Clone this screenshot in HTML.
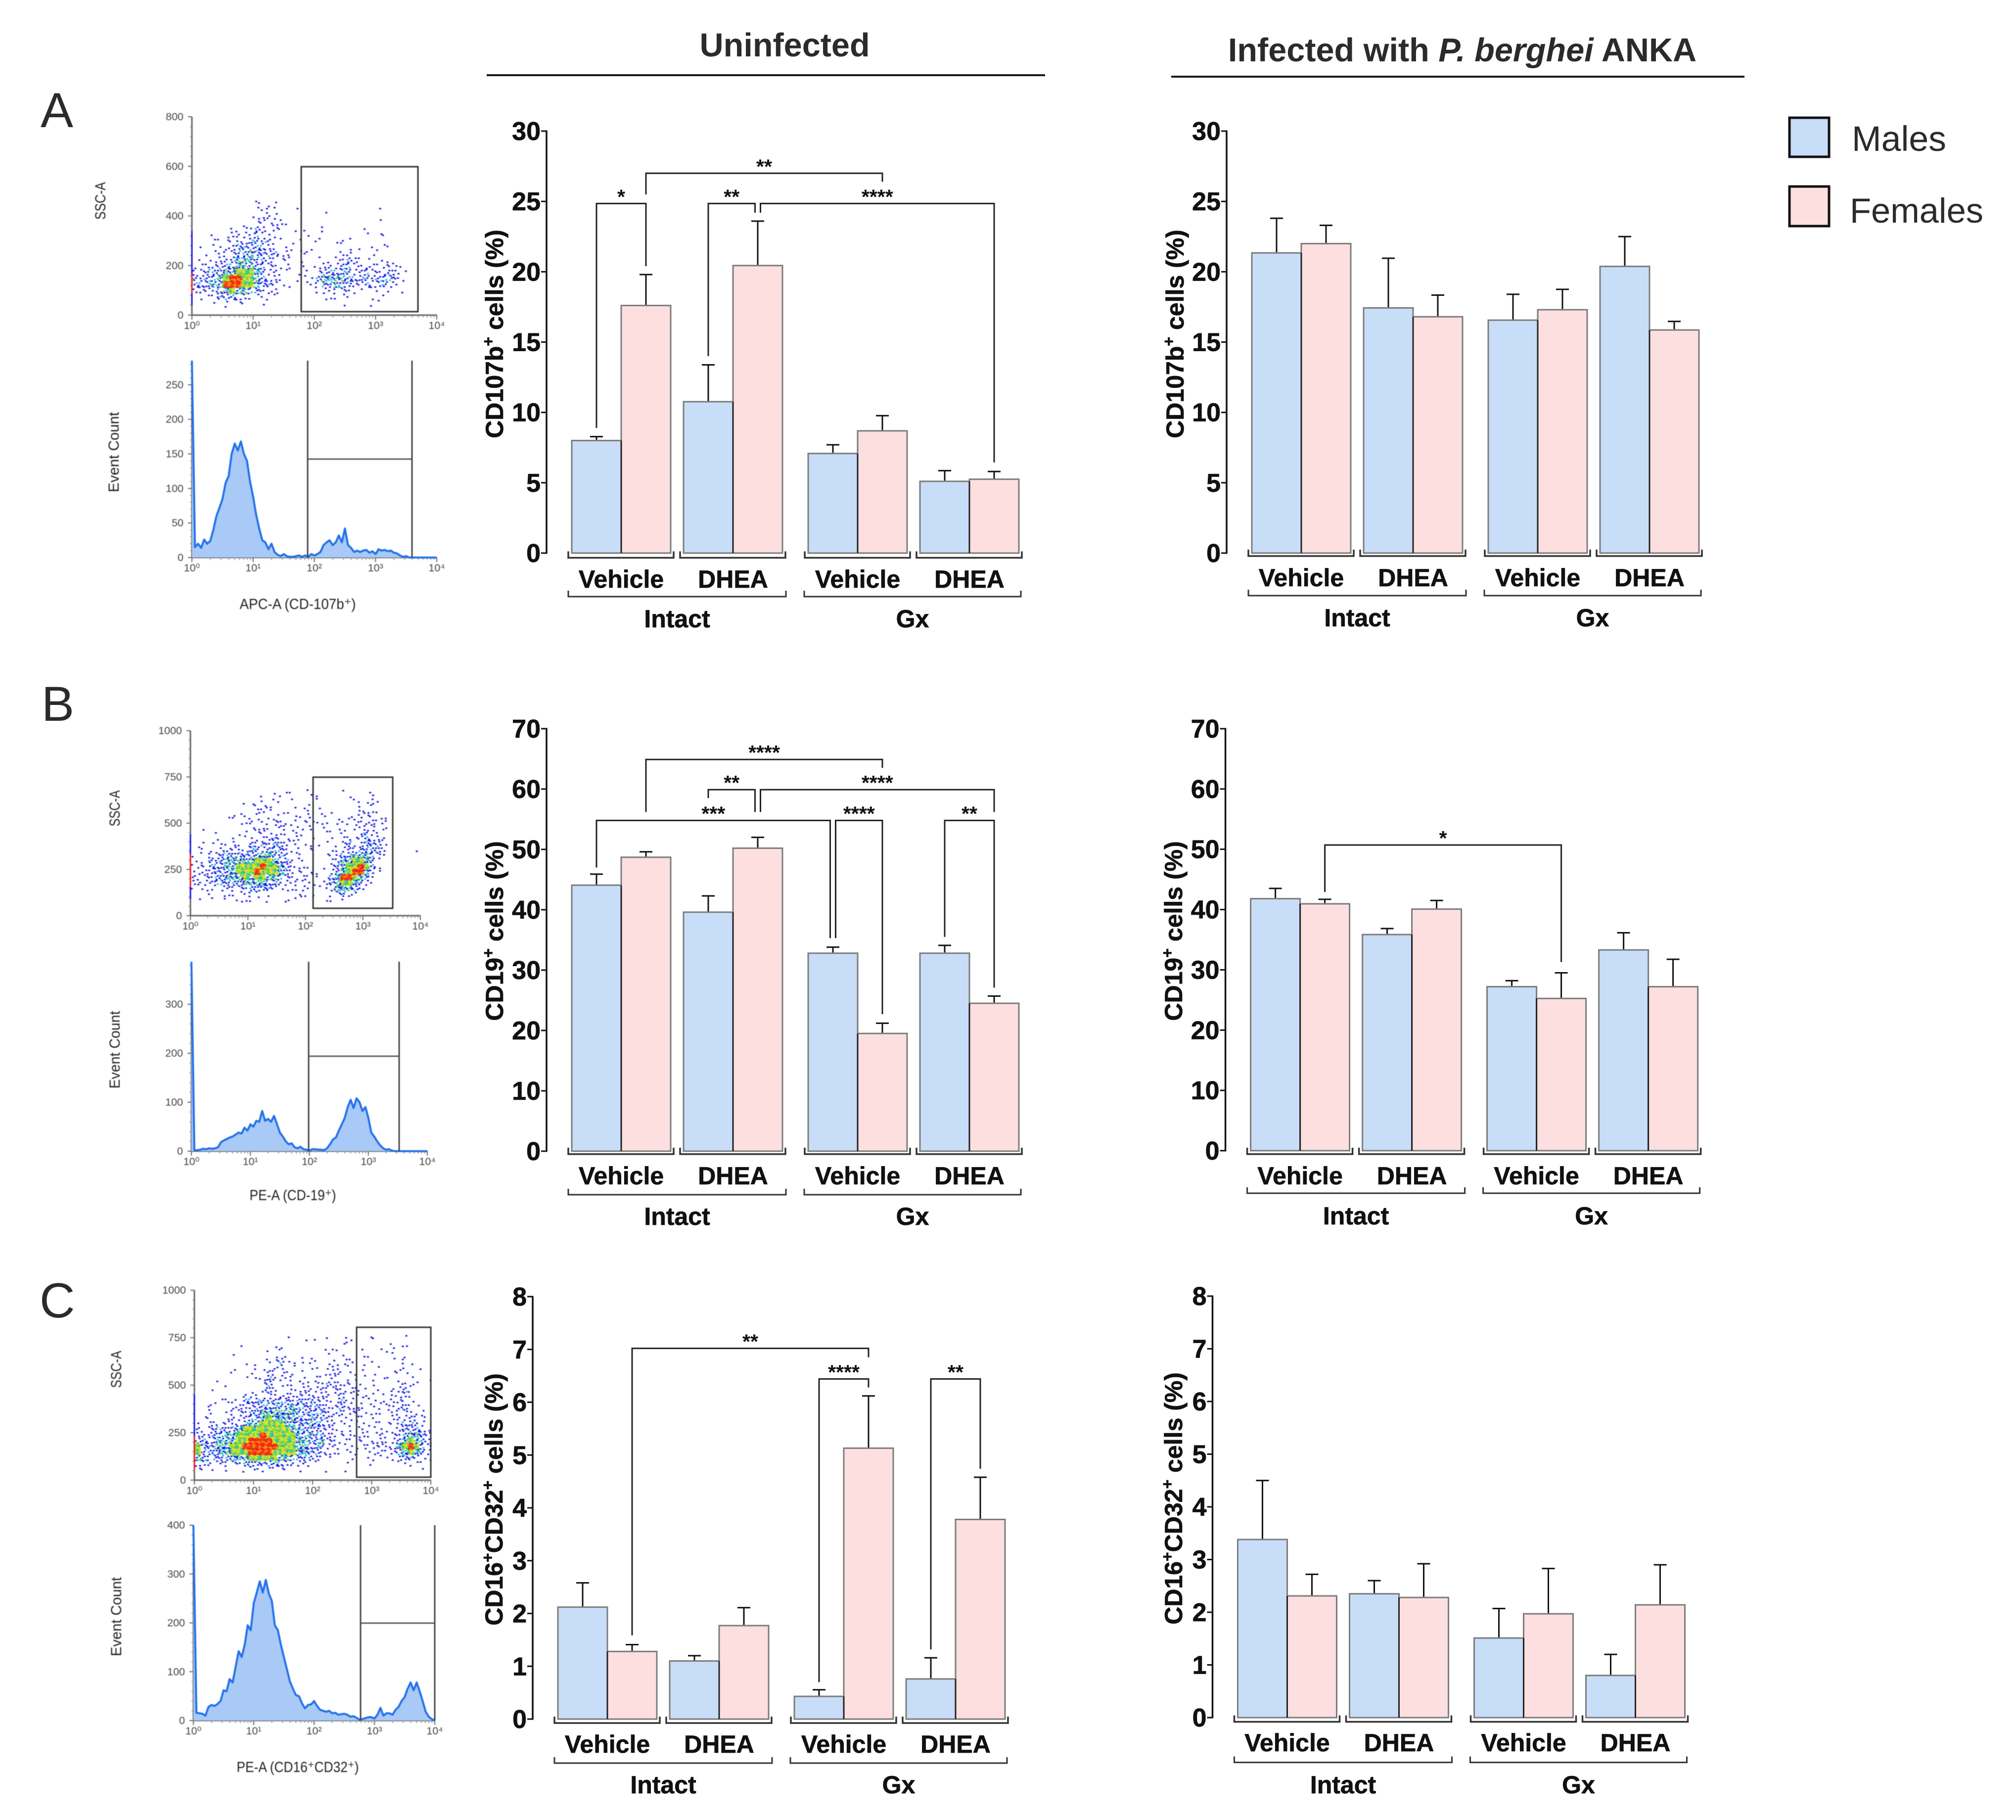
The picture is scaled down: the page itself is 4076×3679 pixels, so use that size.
<!DOCTYPE html>
<html lang="en">
<head>
<meta charset="utf-8">
<title>CD107b, CD19 and CD16/CD32 cell percentages</title>
<style>
html,body{margin:0;padding:0;background:#fff;width:4076px;height:3679px;overflow:hidden}
svg{display:block;font-family:"Liberation Sans",sans-serif}
#flow-layer{filter:blur(.7px)}
</style>
</head>
<body>
<svg id="figure" width="4076" height="3679" viewBox="0 0 4076 3679">
  <rect width="4076" height="3679" fill="#fff"/>

  <text x="1586.6" y="114" text-anchor="middle" font-size="66.6" font-weight="700" fill="#2b2b2b">Uninfected</text>
  <rect x="984" y="150" width="1129" height="4" fill="#1a1a1a"/>
  <text x="2956.5" y="124" text-anchor="middle" font-size="66.6" font-weight="700" fill="#2b2b2b">Infected with <tspan font-style="italic">P. berghei</tspan> ANKA</text>
  <rect x="2368" y="153" width="1159" height="4" fill="#1a1a1a"/>

  <text x="82" y="257" font-size="99" fill="#2b2b2b">A</text>
  <text x="84" y="1457" font-size="99" fill="#2b2b2b">B</text>
  <text x="80" y="2663" font-size="99" fill="#2b2b2b">C</text>

  <rect x="3618" y="238" width="80" height="79" fill="#c8ddf7" stroke="#111" stroke-width="5"/>
  <text x="3744" y="305" font-size="71.6" fill="#2b2b2b">Males</text>
  <rect x="3618" y="377" width="80" height="80" fill="#fddfe0" stroke="#111" stroke-width="5"/>
  <text x="3740" y="450" font-size="70.4" fill="#2b2b2b">Females</text>

  <g id="flow-layer"></g>
  <g id="bar-layer"></g>
</svg>

<script>
/* ---------- bar chart data ---------- */
const groupLabels = ['Vehicle', 'DHEA', 'Vehicle', 'DHEA'];
const treatmentLabels = ['Intact', 'Gx'];

const ticksA = [0, 5, 10, 15, 20, 25, 30];
const ticksB = [0, 10, 20, 30, 40, 50, 60, 70];
const ticksC = [0, 1, 2, 3, 4, 5, 6, 7, 8];

/* bars alternate male, female across the four groups */
const meansUninfectedA = [8.0, 17.6, 10.76, 20.44, 7.08, 8.69, 5.1, 5.25];
const upperUninfectedA = [8.28, 19.8, 13.38, 23.6, 7.7, 9.77, 5.86, 5.8];
const meansInfectedA = [21.34, 22.0, 17.43, 16.8, 16.56, 17.3, 20.38, 15.86];
const upperInfectedA = [23.8, 23.3, 20.96, 18.34, 18.4, 18.75, 22.5, 16.47];

const meansUninfectedB = [44.07, 48.7, 39.6, 50.2, 32.8, 19.5, 32.8, 24.5];
const upperUninfectedB = [45.9, 49.6, 42.3, 52.0, 33.8, 21.2, 34.1, 25.7];
const meansInfectedB = [41.8, 40.95, 35.85, 40.07, 27.2, 25.25, 33.3, 27.2];
const upperInfectedB = [43.5, 41.7, 36.85, 41.5, 28.2, 29.5, 36.15, 31.75];

const meansUninfectedC = [2.12, 1.28, 1.10, 1.77, 0.43, 5.13, 0.76, 3.78];
const upperUninfectedC = [2.58, 1.41, 1.20, 2.11, 0.555, 6.12, 1.16, 4.58];
const meansInfectedC = [3.38, 2.31, 2.35, 2.28, 1.51, 1.97, 0.80, 2.14];
const upperInfectedC = [4.50, 2.72, 2.60, 2.92, 2.07, 2.83, 1.20, 2.90];

/* significance brackets: fromBar, fromSide, fromValue, toBar, toSide, toValue, lineValue, stars */
const bracketsUninfectedA = [
  [0, 0, 8.9, 1, 0, 20.4, 24.85, '*'],
  [1, 0, 25.5, 5, 0, 26.4, 27.0, '**'],
  [2, 0, 14.0, 3, -1, 24.2, 24.85, '**'],
  [3, 1, 24.2, 7, 0, 6.45, 24.85, '****']
];
const bracketsInfectedA = [];
const bracketsUninfectedB = [
  [1, 0, 56.2, 5, 0, 63.5, 64.9, '****'],
  [2, 0, 58.5, 3, -1, 56.2, 59.9, '**'],
  [3, 1, 56.2, 7, 0, 56.2, 59.9, '****'],
  [0, 0, 47.0, 4, -1, 35.3, 54.8, '***'],
  [4, 1, 35.3, 5, 0, 22.7, 54.8, '****'],
  [6, 0, 35.5, 7, 0, 27.1, 54.8, '**']
];
const bracketsInfectedB = [
  [1, 0, 42.9, 5, 0, 31.3, 50.7, '*']
];
const bracketsUninfectedC = [
  [1, 0, 1.585, 5, 0, 6.85, 7.02, '**'],
  [4, 0, 0.70, 5, 0, 6.28, 6.44, '****'],
  [6, 0, 1.32, 7, 0, 4.74, 6.44, '**']
];
const bracketsInfectedC = [];

/* ---------- flow cytometry data ---------- */
const sscTicksA = [0, 200, 400, 600, 800];
const sscTicksBC = [0, 250, 500, 750, 1000];
const countTicksA = [0, 50, 100, 150, 200, 250];
const countTicksB = [0, 100, 200, 300];
const countTicksC = [0, 100, 200, 300, 400];
const decadeLabels = ['10\u2070', '10\u00b9', '10\u00b2', '10\u00b3', '10\u2074'];

/* density read by eye: row = SSC band (top to bottom), column = 0.1 log decade, digit = density level */
const densityTopA = 450;
const densityStepA = 25;
const densityRowsA = [
  "..........2.11",
  "..........1121...1...1........1",
  ".........11122",
  "..........121221..............1",
  "......112132.21.1.1..2......1",
  "...1.122213111....1.........1.11",
  "...111122333211.11..2..121",
  ".1.11223333321.11..1.....1.1.112",
  "..11122334333312.12.....22...1",
  ".111223444332112.1..1.1123211.11",
  "1122333444332212..1112223312211222",
  "2233344555432211.11.133333223222321",
  "333345665543221..111344443333333321",
  "3334466655433211..1123343322322321",
  "22223454433222......12122211..11..1",
  ".1113332211111.......11111...1.1",
  "...1.1.11..1............1....11",
  ".....1"
];
const densityTopB = 690;
const densityStepB = 30;
const densityRowsB = [
  "....................1.....1",
  "............1.1111..11.........2",
  "............1.11.1...1.....111.11",
  ".........11112....1.1........112",
  "...........221..2..11.1.1....2211",
  "......121111.1.1..2.2.11...2.211.2",
  "........112111221.111211.211122212",
  "..1.......12111221112..1.1..2122.2",
  "....1...11.121111111...11.2..1321",
  "....1..1.1111231122..1..1.12123222",
  "..11.2.21.3232332.111.11.123123331",
  ".2.1.22221332333211.11..1122233332.....1",
  "11.22333333344332.2....11233444321",
  "11.33344444555433211....124455431",
  "121333445555655432111..1234556531",
  "1222333455565554321112..234566421",
  "2122334445455443221211.134665431",
  "2222333334444332212111.234554321",
  "1111.2222233332111121.11244432",
  "...1.1111121.1....12.1..12321",
  ".1.1.1.11111.1..2.1....11.1"
];
const densityTopC = 750;
const densityStepC = 30;
const densityRowsC = [
  "...............1..1.1.1..11..11....1",
  ".......1.................2.......1.2",
  "............112.......12....1..111",
  "......1......1.1..1...1..1..11...1.1",
  "............21311.121..1.12..1...1.2",
  "........1.2..22.1..11.2122..1..1...11.1",
  "......2..1.122.21.1...222.111.1..121",
  "........1.2132212.1.11.2.1.11.1.2...1..1",
  "...1.1.....13.11111221322211..1...1221",
  "..1........232..2122222221221.1..2231",
  "........221.21222222222122112.11.2121",
  "...1122.333333332333222.322.1112.2211",
  "..2...22223333334333332232211111212311",
  "..2..1222334444443333322212211111122111",
  ".11..122233454444333332211111.1..222222",
  "1.2212223445555443343322111111111123322",
  "2123333455555555443332221.1111111.233321",
  "2233344555565555543433221121211212234432",
  "3323444556666555544334221111112212345432",
  "5334445566666655544333221111212222456532",
  "5333445556666555544332211111.12112345432",
  "43233344455555443333211...1..11111233211",
  "222122223333333222211....1...1....11111",
  "111..1..11211111.1....1..1............1"
];
/* events piled on the axis: lowSSC, highSSC, density level */
const streakA = [[40, 87, 3], [87, 167, 6], [167, 230, 4], [230, 340, 2]];
const streakB = [[90, 154, 4], [154, 332, 6], [332, 440, 2]];
const streakC = [[57, 231, 6], [231, 330, 4], [330, 450, 2]];

/* histogram counts, one value per 0.05 log decade starting at 10^0 */
const histCountsA = [285,15,20,14,26,20,24,40,60,72,85,108,118,150,165,155,168,150,140,110,88,62,42,25,22,12,20,8,4,2,5,2,1,1,2,3,1,3,1,5,3,5,8,18,22,25,18,22,32,22,42,18,14,8,10,8,10,11,7,9,5,12,10,11,9,10,7,6,3,1,2,0,0,0,0,0,0,0,0,0,0];
const histCountsB = [387,2,2,3,5,4,6,5,6,8,18,22,25,28,30,34,38,36,48,42,55,50,62,60,82,62,66,60,72,56,38,30,20,14,16,8,6,9,4,3,1,4,4,3,3,2,6,14,24,28,42,55,68,90,105,88,108,100,82,90,68,38,30,20,12,6,3,4,1,0,0,0,0,0,0,0,0,0,0,0,0];
const histCountsC = [400,16,15,14,10,28,32,30,34,40,62,60,85,78,110,142,130,155,195,185,240,262,285,262,288,260,245,195,185,155,130,105,80,65,52,50,35,25,32,33,40,30,22,20,18,20,15,16,12,13,14,12,8,9,6,2,3,5,7,7,4,12,26,10,15,15,12,22,28,40,48,65,78,62,78,60,40,18,8,3,0];

/* ---------- drawing ---------- */
const svgRoot = document.getElementById('figure');
const flowLayer = document.getElementById('flow-layer');
const barLayer = document.getElementById('bar-layer');
const SVGNS = svgRoot.namespaceURI;
const BAR_WIDTH = 100;
const BOLD = '700';

function mk(tag, attrs, parent) {
  const el = document.createElementNS(SVGNS, tag);
  for (const k in attrs) el.setAttribute(k, attrs[k]);
  parent.appendChild(el);
  return el;
}
function groupOffset(g) {
  return 51 + g * 226 + (g >= 2 ? 26 : 0);
}

function drawBarChart(c) {
  const root = mk('g', {}, barLayer);
  
  
  const maxTick = c.ticks[c.ticks.length - 1];
  const yScale = v => c.yZero - (v / maxTick) * (c.yZero - c.yTop);
  const barLeft = i => c.axisX + groupOffset(Math.floor(i / 2)) + (i % 2) * BAR_WIDTH;
  const barMid = i => barLeft(i) + BAR_WIDTH / 2;
  const boldText = {'font-weight': BOLD, fill: '#111', stroke: '#111', 'stroke-width': 0.7};

  const axis = mk('line', {x1: c.axisX, x2: c.axisX, y1: yScale(maxTick) - 1.5, y2: yScale(0) + 1.5, stroke: '#111', 'stroke-width': 3.5}, root);
  
  

  c.ticks.forEach(t => {
    const tick = mk('line', {x1: c.axisX - 11, x2: c.axisX, y1: yScale(t), y2: yScale(t), stroke: '#111', 'stroke-width': 3}, root);
    
    
    const label = mk('text', Object.assign({x: c.axisX - 12, y: yScale(t) + 18, 'text-anchor': 'end', 'font-size': 52}, boldText), root);
    
    
    label.textContent = t;
  });

  const title = mk('text', Object.assign({x: c.titleX, y: c.titleY, 'text-anchor': 'middle', 'font-size': 50, transform: 'rotate(-90 ' + c.titleX + ' ' + c.titleY + ')'}, boldText), root);
  
  
  c.titleParts.forEach(part => {
    const isSup = part === '+';
    const span = mk('tspan', isSup ? {'font-size': 32, dy: -19} : {dy: part === c.titleParts[0] ? 0 : 19}, title);
    
    
    span.textContent = part;
  });

  c.means.forEach((v, i) => {
    const isFemale = i % 2 === 1;
    const errLine = mk('line', {x1: barMid(i), x2: barMid(i), y1: yScale(v), y2: yScale(c.upper[i]), stroke: '#111', 'stroke-width': 3}, root);
    
    
    const errCap = mk('line', {x1: barMid(i) - 13, x2: barMid(i) + 13, y1: yScale(c.upper[i]), y2: yScale(c.upper[i]), stroke: '#111', 'stroke-width': 3}, root);
    
    
    const bar = mk('rect', {x: barLeft(i), y: yScale(v), width: BAR_WIDTH, height: yScale(0) - yScale(v), fill: isFemale ? '#fddfe0' : '#c8ddf7', stroke: '#7c7c7c', 'stroke-width': 3}, root);
    
    
  });
  c.means.forEach((v, i) => {
    if (i % 2 === 1) return;
    const shared = Math.max(yScale(v), yScale(c.means[i + 1]));
    const divider = mk('line', {x1: barLeft(i + 1), x2: barLeft(i + 1), y1: shared, y2: yScale(0), stroke: '#222', 'stroke-width': 3}, root);
    
    
  });

  groupLabels.forEach((name, g) => {
    const left = c.axisX + groupOffset(g) - 7;
    const right = c.axisX + groupOffset(g) + 2 * BAR_WIDTH + 6;
    const brace = mk('path', {d: 'M' + left + ' ' + (c.braceY - 13) + 'V' + c.braceY + 'H' + right + 'V' + (c.braceY - 13), fill: 'none', stroke: '#333', 'stroke-width': 3.5}, root);
    
    
    const label = mk('text', Object.assign({x: c.axisX + groupOffset(g) + BAR_WIDTH, y: c.groupY, 'text-anchor': 'middle', 'font-size': 50}, boldText), root);
    
    
    label.textContent = name;
  });

  treatmentLabels.forEach((name, s) => {
    const left = c.axisX + groupOffset(s * 2) - (s ? 8 : 7);
    const right = c.axisX + groupOffset(s * 2 + 1) + 2 * BAR_WIDTH + (s ? 4 : 7);
    const brace = mk('path', {d: 'M' + left + ' ' + (c.superY - 12) + 'V' + c.superY + 'H' + right + 'V' + (c.superY - 12), fill: 'none', stroke: '#333', 'stroke-width': 3}, root);
    
    
    const label = mk('text', Object.assign({x: (left + right) / 2, y: c.superLabelY, 'text-anchor': 'middle', 'font-size': 50}, boldText), root);
    
    
    label.textContent = name;
  });

  c.brackets.forEach(b => {
    const x1 = barMid(b[0]) + b[1] * 5.5;
    const x2 = barMid(b[3]) + b[4] * 5.5;
    const path = mk('path', {d: 'M' + x1 + ' ' + yScale(b[2]) + 'V' + yScale(b[6]) + 'H' + x2 + 'V' + yScale(b[5]), fill: 'none', stroke: '#222', 'stroke-width': 3}, root);
    
    
    const stars = mk('text', {x: (x1 + x2) / 2, y: yScale(b[6]), 'text-anchor': 'middle', 'font-size': 41, 'font-weight': BOLD, fill: '#111'}, root);
    
    
    stars.textContent = b[7];
  });
}

/* fixed sub-cell offsets used to lay dots inside a density cell */
const CELL_OFFSETS = [[.1,.2],[.6,.7],[.35,.05],[.8,.3],[.2,.75],[.5,.4],[.05,.5],[.7,.05],[.4,.85],[.9,.6],[.25,.45],[.6,.2],[.8,.85],[.1,.9]];
const LEVEL_DOTS = [0, 1, 2, 4, 7, 11, 14];
const LEVEL_COLORS = [
  [], ['#1414e0'], ['#1414e0'],
  ['#1414e0', '#1414e0', '#10b8e8', '#1414e0'],
  ['#1414e0', '#10b8e8', '#20c878', '#1414e0', '#18c8c0', '#70d840'],
  ['#20c878', '#e8e820', '#18c8c0', '#70d840', '#f0d020', '#b8e020'],
  ['#f01818', '#f89010', '#f03010']
];
const LEVEL_BASE = {5: '#a8dc50', 6: '#f8a010'};
const DOT_ORDER = ['#1414e0', '#10b8e8', '#18c8c0', '#20c878', '#70d840', '#b8e020', '#e8e820', '#f0d020', '#f89010', '#f03010', '#f01818'];

function flowAxes(root, p, yTicks, minorCount) {
  const yScale = v => p.yZero - (v / p.max) * (p.yZero - p.yTop);
  const xScale = l => p.x0 + (l / 4) * (p.x1 - p.x0);
  const yLine = mk('line', {x1: p.x0, x2: p.x0, y1: p.yTop, y2: p.yZero, stroke: '#666', 'stroke-width': 3}, root);
  
  
  const xLine = mk('line', {x1: p.x0, x2: p.x1, y1: p.yZero, y2: p.yZero, stroke: '#666', 'stroke-width': 3}, root);
  
  
  const step = yTicks[1] - yTicks[0];
  yTicks.forEach(t => {
    const tick = mk('line', {x1: p.x0 - 8, x2: p.x0, y1: yScale(t), y2: yScale(t), stroke: '#666', 'stroke-width': 2}, root);
    
    
    for (let m = 1; m < minorCount; m++) {
      const v = t + m * step / minorCount;
      if (v > p.max) break;
      const minor = mk('line', {x1: p.x0 - 4, x2: p.x0, y1: yScale(v), y2: yScale(v), stroke: '#888', 'stroke-width': 1.5}, root);
      
      
    }
    const label = mk('text', {x: p.x0 - 17, y: yScale(t) + 7, 'text-anchor': 'end', 'font-size': 21.5, fill: '#444'}, root);
    
    
    label.textContent = t;
  });
  decadeLabels.forEach((text, d) => {
    const tick = mk('line', {x1: xScale(d), x2: xScale(d), y1: p.yZero, y2: p.yZero + 9, stroke: '#666', 'stroke-width': 2}, root);
    
    
    if (d < 4) {
      for (let m = 2; m < 10; m++) {
        const minor = mk('line', {x1: xScale(d + Math.log10(m)), x2: xScale(d + Math.log10(m)), y1: p.yZero, y2: p.yZero + 5, stroke: '#888', 'stroke-width': 1.5}, root);
        
        
      }
    }
    const label = mk('text', {x: xScale(d), y: p.yZero + 28, 'text-anchor': 'middle', 'font-size': 21.5, fill: '#444'}, root);
    
    
    label.textContent = text;
  });
  return {xScale, yScale};
}

function drawScatter(p) {
  const root = mk('g', {}, flowLayer);
  
  
  const s = flowAxes(root, p, p.ticks, 5);
  const cellW = s.xScale(0.1) - s.xScale(0);
  const cellH = s.yScale(0) - s.yScale(p.step);
  const dotPaths = {};
  const basePaths = {};
  p.rows.forEach((row, r) => {
    const ssc = p.top - r * p.step;
    const cy = s.yScale(ssc) - cellH / 2;
    for (let c = 0; c < row.length && c <= 40; c++) {
      const level = row[c] === '.' ? 0 : +row[c];
      if (!level) continue;
      const cx = s.xScale(c * 0.1);
      if (LEVEL_BASE[level]) {
        const base = LEVEL_BASE[level];
        basePaths[base] = (basePaths[base] || '') + 'M' + cx.toFixed(1) + ' ' + cy.toFixed(1) + 'h' + cellW.toFixed(1) + 'v' + cellH.toFixed(1) + 'h-' + cellW.toFixed(1) + 'z';
      }
      const colors = LEVEL_COLORS[level];
      for (let k = 0; k < LEVEL_DOTS[level]; k++) {
        const off = CELL_OFFSETS[(r * 5 + c * 3 + k) % CELL_OFFSETS.length];
        const col = colors[k % colors.length];
        dotPaths[col] = (dotPaths[col] || '') + 'M' + (cx + off[0] * cellW).toFixed(1) + ' ' + (cy + off[1] * cellH).toFixed(1) + 'h4v3h-4z';
      }
    }
  });
  Object.keys(basePaths).forEach(col => {
    const base = mk('path', {d: basePaths[col], fill: col}, root);
    
    
  });
  DOT_ORDER.forEach(col => {
    if (!dotPaths[col]) return;
    const dots = mk('path', {d: dotPaths[col], fill: col}, root);
    
    
  });
  p.streak.forEach(seg => {
    const colors = LEVEL_COLORS[seg[2]];
    const streak = mk('line', {x1: p.x0, x2: p.x0, y1: s.yScale(seg[0]), y2: s.yScale(seg[1]), stroke: colors[0], 'stroke-width': 3}, root);
    
    
  });
  const gate = mk('rect', {x: p.gate[0], y: p.gate[1], width: p.gate[2] - p.gate[0], height: p.gate[3] - p.gate[1], fill: 'none', stroke: '#333', 'stroke-width': 3}, root);
  
  
  const label = mk('text', {x: p.labelX, y: p.labelY, 'text-anchor': 'middle', 'font-size': 30, fill: '#222', textLength: p.labelLen, lengthAdjust: 'spacingAndGlyphs', transform: 'rotate(-90 ' + p.labelX + ' ' + p.labelY + ')'}, root);
  
  
  label.textContent = 'SSC-A';
}

function drawHistogram(p) {
  const root = mk('g', {}, flowLayer);
  
  
  const s = flowAxes(root, p, p.ticks, 5);
  const pts = p.counts.map((v, i) => s.xScale(i * 0.05).toFixed(1) + ' ' + s.yScale(Math.min(v, p.max)).toFixed(1));
  const line = 'M' + pts.join('L');
  const area = mk('path', {d: line + 'L' + s.xScale(4) + ' ' + s.yScale(0) + 'L' + s.xScale(0) + ' ' + s.yScale(0) + 'Z', fill: '#a9c9f6'}, root);
  
  
  const outline = mk('path', {d: line, fill: 'none', stroke: '#2070e8', 'stroke-width': 4, 'stroke-linejoin': 'round'}, root);
  
  
  const gateLeft = mk('line', {x1: p.gate[0], x2: p.gate[0], y1: p.yTop, y2: p.yZero, stroke: '#444', 'stroke-width': 3}, root);
  
  
  const gateRight = mk('line', {x1: p.gate[1], x2: p.gate[1], y1: p.yTop, y2: p.yZero, stroke: '#444', 'stroke-width': 3}, root);
  
  
  const gateBar = mk('line', {x1: p.gate[0], x2: p.gate[1], y1: p.gate[2], y2: p.gate[2], stroke: '#444', 'stroke-width': 2.5}, root);
  
  
  const yLabel = mk('text', {x: p.labelX, y: p.labelY, 'text-anchor': 'middle', 'font-size': 30, fill: '#222', textLength: p.labelLen, lengthAdjust: 'spacingAndGlyphs', transform: 'rotate(-90 ' + p.labelX + ' ' + p.labelY + ')'}, root);
  
  
  yLabel.textContent = 'Event Count';
  const xLabel = mk('text', {x: p.xLabelX, y: p.xLabelY, 'text-anchor': 'middle', 'font-size': 30, fill: '#222', textLength: p.xLabelLen, lengthAdjust: 'spacingAndGlyphs'}, root);
  
  
  xLabel.textContent = p.xLabel;
}

drawScatter({name: 'scatter-a', x0: 388, x1: 883, yTop: 236, yZero: 637, max: 800, ticks: sscTicksA, rows: densityRowsA, top: densityTopA, step: densityStepA, streak: streakA, gate: [609, 337, 845, 630], labelX: 213, labelY: 406, labelLen: 76});
drawHistogram({name: 'histogram-a', x0: 388, x1: 883, yTop: 729, yZero: 1127, max: 285, ticks: countTicksA, counts: histCountsA, gate: [622, 833, 928], labelX: 240, labelY: 914, labelLen: 162, xLabel: 'APC-A (CD-107b\u207a)', xLabelX: 602, xLabelY: 1231, xLabelLen: 235});
drawScatter({name: 'scatter-b', x0: 385, x1: 850, yTop: 1477, yZero: 1851, max: 1000, ticks: sscTicksBC, rows: densityRowsB, top: densityTopB, step: densityStepB, streak: streakB, gate: [633, 1571, 794, 1836], labelX: 242, labelY: 1634, labelLen: 73});
drawHistogram({name: 'histogram-b', x0: 387, x1: 864, yTop: 1944, yZero: 2327, max: 387, ticks: countTicksB, counts: histCountsB, gate: [624, 807, 2135], labelX: 242, labelY: 2122, labelLen: 157, xLabel: 'PE-A (CD-19\u207a)', xLabelX: 592, xLabelY: 2426, xLabelLen: 175});
drawScatter({name: 'scatter-c', x0: 393, x1: 871, yTop: 2608, yZero: 2992, max: 1000, ticks: sscTicksBC, rows: densityRowsC, top: densityTopC, step: densityStepC, streak: streakC, gate: [721, 2683, 871, 2986], labelX: 245, labelY: 2768, labelLen: 75});
drawHistogram({name: 'histogram-c', x0: 391, x1: 879, yTop: 3083, yZero: 3478, max: 400, ticks: countTicksC, counts: histCountsC, gate: [729, 879, 3281], labelX: 245, labelY: 3268, labelLen: 160, xLabel: 'PE-A (CD16\u207aCD32\u207a)', xLabelX: 602, xLabelY: 3582, xLabelLen: 247});

drawBarChart({name: 'chart-a-uninfected', axisX: 1105, yTop: 265, yZero: 1118, ticks: ticksA, means: meansUninfectedA, upper: upperUninfectedA, brackets: bracketsUninfectedA, titleX: 1017, titleY: 675, titleParts: ['CD107b', '+', ' cells (%)'], braceY: 1127.5, groupY: 1188, superY: 1206, superLabelY: 1268});
drawBarChart({name: 'chart-a-infected', axisX: 2480, yTop: 265, yZero: 1118, ticks: ticksA, means: meansInfectedA, upper: upperInfectedA, brackets: bracketsInfectedA, titleX: 2393, titleY: 675, titleParts: ['CD107b', '+', ' cells (%)'], braceY: 1124, groupY: 1185, superY: 1204, superLabelY: 1266});
drawBarChart({name: 'chart-b-uninfected', axisX: 1105, yTop: 1473, yZero: 2327, ticks: ticksB, means: meansUninfectedB, upper: upperUninfectedB, brackets: bracketsUninfectedB, titleX: 1017, titleY: 1882, titleParts: ['CD19', '+', ' cells (%)'], braceY: 2333, groupY: 2394, superY: 2415, superLabelY: 2476});
drawBarChart({name: 'chart-b-infected', axisX: 2477.6, yTop: 1473, yZero: 2326, ticks: ticksB, means: meansInfectedB, upper: upperInfectedB, brackets: bracketsInfectedB, titleX: 2390, titleY: 1882, titleParts: ['CD19', '+', ' cells (%)'], braceY: 2333, groupY: 2394, superY: 2412, superLabelY: 2475});
drawBarChart({name: 'chart-c-uninfected', axisX: 1077, yTop: 2621, yZero: 3475, ticks: ticksC, means: meansUninfectedC, upper: upperUninfectedC, brackets: bracketsUninfectedC, titleX: 1016, titleY: 3031, titleParts: ['CD16', '+', 'CD32', '+', ' cells (%)'], braceY: 3483, groupY: 3543, superY: 3564, superLabelY: 3625});
drawBarChart({name: 'chart-c-infected', axisX: 2451.5, yTop: 2620, yZero: 3472, ticks: ticksC, means: meansInfectedC, upper: upperInfectedC, brackets: bracketsInfectedC, titleX: 2390, titleY: 3029, titleParts: ['CD16', '+', 'CD32', '+', ' cells (%)'], braceY: 3480.5, groupY: 3540, superY: 3562.6, superLabelY: 3625});
</script>
</body>
</html>
